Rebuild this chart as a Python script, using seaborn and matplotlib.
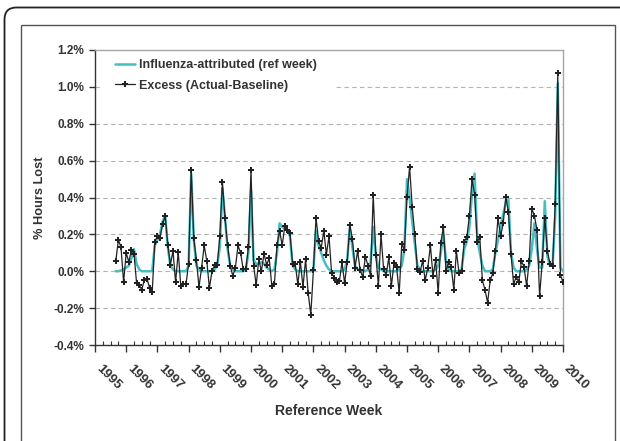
import numpy as np
import pandas as pd
import matplotlib
matplotlib.use('Agg')
import matplotlib.pyplot as plt
import matplotlib.transforms as mtransforms
from matplotlib.patches import FancyBboxPatch, Rectangle
from matplotlib.ticker import MultipleLocator, FixedLocator, FuncFormatter
import seaborn as sns

# Valeurs (en % d'heures perdues), une valeur par mois, août 1995 -> déc. 2009
excess = [
    0.056, 0.17, 0.13, -0.06, 0.10, 0.05, 0.115, 0.095, -0.065, -0.075,
    -0.10, -0.045, -0.04, -0.09, -0.115, 0.16, 0.19, 0.18, 0.255, 0.30,
    0.145, 0.035, 0.11, -0.06, 0.105, -0.08, -0.07, -0.07, 0.04, 0.55,
    0.18, 0.06, -0.085, 0.02, 0.14, 0.055, -0.09, 0.0, 0.035, 0.035,
    0.19, 0.485, 0.29, 0.14, 0.03, -0.025, 0.02, 0.14, 0.10, 0.01,
    0.01, 0.13, 0.55, 0.03, -0.075, 0.065, 0.0, 0.095, 0.035, 0.07,
    -0.08, -0.07, 0.14, 0.22, 0.14, 0.245, 0.225, 0.205, 0.04, 0.04,
    -0.07, 0.05, -0.085, 0.065, -0.12, -0.235, 0.005, 0.29, 0.165, 0.125,
    0.22, 0.09, 0.19, -0.01, -0.035, -0.06, -0.055, 0.05, -0.065, 0.05,
    0.25, 0.175, 0.02, 0.11, 0.005, -0.03, 0.08, 0.03, -0.025, 0.415,
    0.09, -0.08, 0.20, 0.01, -0.02, 0.075, -0.08, 0.045, 0.025, -0.12,
    0.15, 0.115, 0.405, 0.565, 0.35, 0.20, 0.01, -0.005, 0.055, -0.05,
    0.02, 0.14, -0.025, 0.06, -0.12, 0.155, 0.24, 0.0, 0.05, 0.025,
    -0.10, 0.11, -0.01, 0.0, 0.16, 0.185, 0.30, 0.50, 0.415, 0.16,
    0.185, -0.05, -0.10, -0.17, -0.05, -0.01, 0.11, 0.29, 0.19, 0.26,
    0.405, 0.32, 0.095, -0.07, -0.03, -0.06, 0.055, 0.025, -0.08, 0.055,
    0.34, 0.30, 0.225, -0.135, 0.05, 0.29, 0.11, 0.04, 0.03,
    0.365, 1.075, -0.02, -0.06,
]

influenza = [
    0.0, 0.0, 0.005, 0.01, 0.02, 0.03, 0.07, 0.12, 0.04, 0.01,
    0.0, 0.0, 0.0, 0.0, 0.0, 0.14, 0.17, 0.20, 0.27, 0.30,
    0.13, 0.03, 0.01, 0.0, 0.0, 0.0, 0.0, 0.0, 0.03, 0.53,
    0.17, 0.03, 0.01, 0.0, 0.0, 0.0, 0.0, 0.0, 0.01, 0.03,
    0.13, 0.45, 0.29, 0.12, 0.03, 0.01, 0.0, 0.0, 0.0, 0.0,
    0.01, 0.10, 0.44, 0.06, 0.04, 0.04, 0.05, 0.04, 0.02, 0.01,
    0.0, 0.01, 0.10, 0.26, 0.24, 0.23, 0.22, 0.19, 0.03, 0.01,
    0.0, 0.0, 0.0, 0.0, 0.0, 0.0, 0.01, 0.22, 0.14, 0.10,
    0.06, 0.03, 0.01, 0.0, 0.0, 0.0, 0.0, 0.0, 0.01, 0.06,
    0.24, 0.13, 0.03, 0.01, 0.0, 0.0, 0.0, 0.01, 0.05, 0.24,
    0.09, 0.02, 0.01, 0.0, 0.0, 0.0, 0.0, 0.0, 0.0, 0.01,
    0.03, 0.12, 0.50, 0.40, 0.27, 0.15, 0.03, 0.01, 0.0, 0.0,
    0.0, 0.0, 0.0, 0.01, 0.03, 0.10, 0.20, 0.06, 0.01, 0.0,
    0.0, 0.0, 0.0, 0.01, 0.12, 0.16, 0.24, 0.42, 0.53, 0.18,
    0.10, 0.03, 0.0, 0.0, 0.0, 0.01, 0.10, 0.17, 0.24, 0.31,
    0.37, 0.39, 0.10, 0.02, 0.0, 0.0, 0.0, 0.0, 0.01, 0.03,
    0.12, 0.26, 0.12, 0.02, 0.02, 0.38, 0.08, 0.03, 0.03,
    0.30, 1.02, 0.02, 0.0,
]

years = list(range(1995, 2011))
year_labels = [str(y) for y in years]
y_ticks = [-0.4, -0.2, 0.0, 0.2, 0.4, 0.6, 0.8, 1.0, 1.2]
grid_levels = [-0.2, 0.0, 0.2, 0.4, 0.6, 0.8, 1.0]

dates = pd.date_range('1995-08-01', periods=len(excess), freq='MS')
week = dates.year + dates.month / 12
df = pd.DataFrame({'week': week, 'excess': excess, 'influenza': influenza})

sns.set_theme(style='white')
plt.rcParams['font.family'] = ['Liberation Sans', 'DejaVu Sans']
plt.rcParams['font.weight'] = 'bold'
text_col = '#333333'

fig = plt.figure(figsize=(6.2, 4.41), dpi=100)
ax = fig.add_axes([95 / 620, 1 - 345 / 441, 468 / 620, 295 / 441])

# cadres autour du graphique
pix = mtransforms.IdentityTransform()
fig.patches.append(FancyBboxPatch((4.5, -40), 700, 441 - 7.5 + 40,
                                  boxstyle='round,pad=0,rounding_size=12',
                                  transform=pix, facecolor='none',
                                  edgecolor='#222222', linewidth=1.3))
fig.patches.append(Rectangle((20.5, -40), 594.5, 441 - 24.5 + 40, transform=pix,
                             facecolor='none', edgecolor='#555555', linewidth=1))

for g in grid_levels:
    ax.axhline(g, color='#b3b3b3', linewidth=0.8, linestyle=(0, (4, 3)), zorder=1)

# fond blanc de la légende (cache la grille)
ax.add_patch(Rectangle((0.01, 0.84), 0.505, 0.15, transform=ax.transAxes,
                       facecolor='white', edgecolor='none', zorder=2))

sns.lineplot(data=df, x='week', y='influenza', color='#45bec4', linewidth=1.8,
             ax=ax, label='Influenza-attributed (ref week)', zorder=3)
sns.lineplot(data=df, x='week', y='excess', color='#222222', linewidth=0.9,
             marker='P', markersize=5, markeredgewidth=0, ax=ax,
             label='Excess (Actual-Baseline)', zorder=4)

ax.set_xlim(1995, 2010)
ax.set_ylim(-0.4, 1.2)
ax.xaxis.set_major_locator(FixedLocator(years))
ax.xaxis.set_minor_locator(MultipleLocator(0.25))
ax.yaxis.set_major_locator(FixedLocator(y_ticks))
ax.yaxis.set_major_formatter(FuncFormatter(lambda v, p: f'{round(v, 1) + 0.0:.1f}%'))

ax.tick_params(axis='y', which='major', direction='out', length=4, width=1,
               color='#333333', labelsize=8.5, pad=4, labelcolor=text_col, left=True)
ax.tick_params(axis='x', which='major', direction='out', length=5, width=1,
               color='#333333', pad=8, bottom=True)
ax.tick_params(axis='x', which='minor', direction='in', length=3, width=0.8,
               color='#333333', bottom=True)
for lab in ax.get_yticklabels():
    lab.set_fontweight('bold')

# étiquettes des années, inclinées et décalées vers la droite
ax.set_xticklabels(year_labels, rotation=-45, ha='left', va='top',
                   rotation_mode='anchor', fontsize=9.5, fontweight='bold', color=text_col)
offset = mtransforms.ScaledTranslation(7 / 100, 0, fig.dpi_scale_trans)
for lab in ax.get_xticklabels():
    lab.set_transform(lab.get_transform() + offset)

for side in ['top', 'right']:
    ax.spines[side].set_color('#a6a6a6')
    ax.spines[side].set_linewidth(1)
for side in ['left', 'bottom']:
    ax.spines[side].set_color('#333333')
    ax.spines[side].set_linewidth(1)

ax.set_xlabel('Reference Week', fontsize=10, fontweight='bold', color=text_col)
ax.set_ylabel('% Hours Lost', fontsize=9.2, fontweight='bold', color=text_col)
ax.xaxis.set_label_coords(0.5, -0.223)
ax.xaxis.label.set_va('center')
ax.yaxis.set_label_coords(-55 / 468, 0.5)
ax.yaxis.label.set_va('center')

ax.legend(loc='upper left', bbox_to_anchor=(0.043, 0.968), borderpad=0,
          borderaxespad=0, frameon=False, handlelength=1.6, handletextpad=0.3,
          labelspacing=0.65, prop={'weight': 'bold', 'size': 9}, labelcolor=text_col)

fig.savefig('out.png', dpi=100)
